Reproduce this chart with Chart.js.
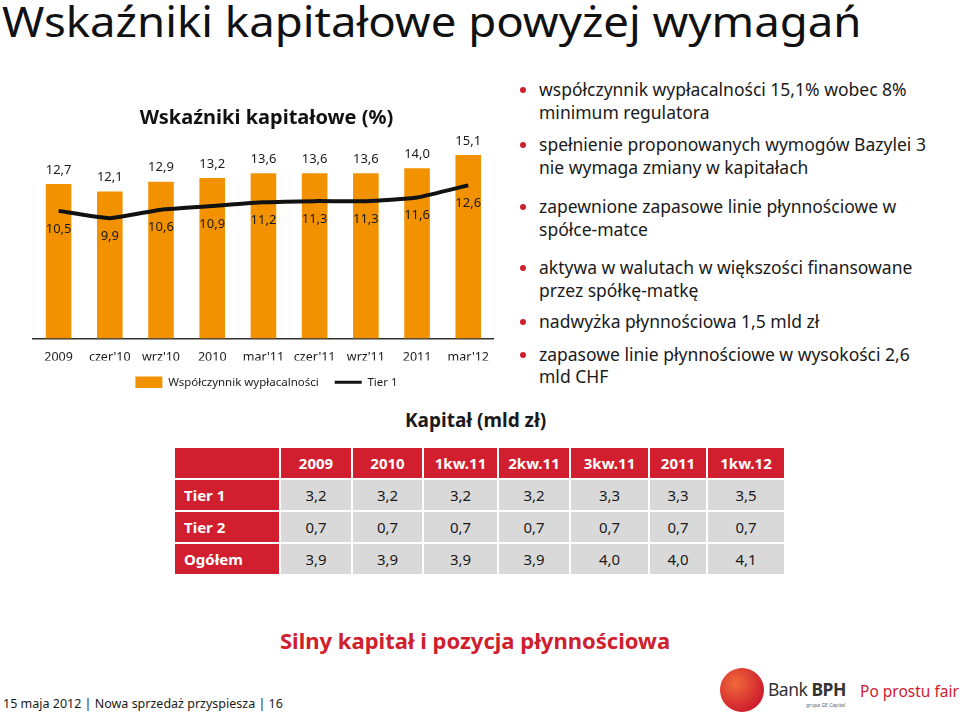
<!DOCTYPE html>
<html lang="pl">
<head>
<meta charset="utf-8">
<script src="https://cdn.jsdelivr.net/npm/chart.js@4.4.1/dist/chart.umd.min.js"></script>
<style>
  body { margin: 0; width: 960px; height: 718px; background: #fff; position: relative; overflow: hidden; font-family: "Noto Sans", Lato, sans-serif; color: #1a1a1a; }
  .abs { position: absolute; white-space: nowrap; }
  #title { left: 2px; top: -8px; font-size: 42px; color: #111; transform-origin: 0 0; }
  #chartBox { left: 20px; top: 95px; width: 480px; height: 305px; }
  ul.bul { left: 520px; top: 78px; margin: 0; padding: 0; list-style: none; font-size: 17.5px; line-height: 22.5px; }
  ul.bul li { position: relative; padding-left: 19px; }
  ul.bul li:before { content: ""; position: absolute; left: 0; top: 9px; width: 6px; height: 6px; border-radius: 50%; background: #d0202e; }
  #kap { left: 405px; top: 407px; font-size: 19px; font-weight: bold; }
  table.kt { left: 173px; top: 446px; border-collapse: separate; border-spacing: 2px; font-size: 15px; }
  table.kt td { height: 30px; text-align: center; padding: 0; }
  table.kt td.h { background: #d21f2f; color: #fff; font-weight: bold; }
  table.kt td.r { background: #d21f2f; color: #fff; font-weight: bold; text-align: left; padding-left: 9px; }
  table.kt td.v { background: #d9d9d9; }
  #silny { left: 280px; top: 625px; font-size: 22px; font-weight: bold; color: #d0202e; }
  #foot { left: 3px; top: 695px; font-size: 12.5px; }
  #logo { left: 720px; top: 668px; width: 44px; height: 44px; border-radius: 50%; background: radial-gradient(circle at 35% 35%, #f06a3a, #d0202e 70%); }
  #bank { left: 768px; top: 677px; font-size: 17.5px; color: #333; letter-spacing: -0.5px; }
  #grupa { left: 806px; top: 702px; font-size: 5px; color: #666; }
  #fair { left: 860px; top: 680px; font-size: 15.5px; color: #d0202e; }
</style>
</head>
<body>
<div id="title" class="abs">Wskaźniki kapitałowe powyżej wymagań</div>

<div id="chartBox" class="abs"><canvas id="mycanvas"></canvas></div>

<ul class="bul abs">
  <li>współczynnik wypłacalności 15,1% wobec 8%<br>minimum regulatora</li>
  <li style="margin-top:10px">spełnienie proponowanych wymogów Bazylei 3<br>nie wymaga zmiany w kapitałach</li>
  <li style="margin-top:17px">zapewnione zapasowe linie płynnościowe w<br>spółce-matce</li>
  <li style="margin-top:16px">aktywa w walutach w większości finansowane<br>przez spółkę-matkę</li>
  <li style="margin-top:9px">nadwyżka płynnościowa 1,5 mld zł</li>
  <li style="margin-top:10px">zapasowe linie płynnościowe w wysokości 2,6<br>mld CHF</li>
</ul>

<div id="kap" class="abs">Kapitał (mld zł)</div>
<table class="kt abs" id="ktab"></table>

<div id="silny" class="abs">Silny kapitał i pozycja płynnościowa</div>
<div id="foot" class="abs">15 maja 2012 | Nowa sprzedaż przyspiesza | 16</div>
<div id="logo" class="abs"></div>
<div id="bank" class="abs">Bank <b>BPH</b></div>
<div id="grupa" class="abs">grupa GE Capital</div>
<div id="fair" class="abs">Po prostu fair</div>

<script>
// chart data
var labels = ["2009", "czer'10", "wrz'10", "2010", "mar'11", "czer'11", "wrz'11", "2011", "mar'12"];
var solvency = [12.7, 12.1, 12.9, 13.2, 13.6, 13.6, 13.6, 14.0, 15.1]; // Współczynnik wypłacalności
var tier1 = [10.5, 9.9, 10.6, 10.9, 11.2, 11.3, 11.3, 11.6, 12.6];

// table data
var tableCols = ["2009", "2010", "1kw.11", "2kw.11", "3kw.11", "2011", "1kw.12"];
var tableRows = ["Tier 1", "Tier 2", "Ogółem"];
var capTier1 = [3.2, 3.2, 3.2, 3.2, 3.3, 3.3, 3.5];
var capTier2 = [0.7, 0.7, 0.7, 0.7, 0.7, 0.7, 0.7];
var capTotal = [3.9, 3.9, 3.9, 3.9, 4.0, 4.0, 4.1];

var colWidths = [104, 70, 69, 73, 70, 77, 56, 76];
var FONT = "'Noto Sans', Lato, sans-serif";

function fmt(v) { return v.toFixed(1).replace(".", ","); }

// stretch the slide title to the width it has on the slide
var t = document.getElementById("title");
t.style.transform = "scaleX(" + (860 / t.offsetWidth) + ")";

// build table
var tab = document.getElementById("ktab");
var html = "<tr><td class='h' style='width:" + colWidths[0] + "px'></td>";
for (var i = 0; i < tableCols.length; i++) {
    html += "<td class='h' style='width:" + colWidths[i + 1] + "px'>" + tableCols[i] + "</td>";
}
html += "</tr>";
var rowsData = [capTier1, capTier2, capTotal];
for (var r = 0; r < tableRows.length; r++) {
    html += "<tr><td class='r'>" + tableRows[r] + "</td>";
    for (var c = 0; c < rowsData[r].length; c++) {
        html += "<td class='v'>" + fmt(rowsData[r][c]) + "</td>";
    }
    html += "</tr>";
}
tab.innerHTML = html;

// value labels on bars and line
var valueLabels = {
    id: 'valueLabels',
    afterDatasetsDraw: function(chart) {
        var ctx = chart.ctx;
        ctx.save();
        ctx.font = "13px " + FONT;
        ctx.fillStyle = "#1a1a1a";
        ctx.textAlign = "center";
        ctx.textBaseline = "middle";
        chart.getDatasetMeta(0).data.forEach(function(el, i) {
            ctx.fillText(fmt(solvency[i]), el.x, el.y - 14);
        });
        chart.getDatasetMeta(1).data.forEach(function(el, i) {
            ctx.fillText(fmt(tier1[i]), el.x, el.y + 18);
        });
        ctx.restore();
    }
};

var ctx = document.getElementById("mycanvas");
var chart = new Chart(ctx, {
    type: 'bar',
    data: {
        labels: labels,
        datasets: [
            {
                label: 'Współczynnik wypłacalności',
                data: solvency,
                backgroundColor: '#f39200',
                barPercentage: 0.5,
                categoryPercentage: 1.0,
                order: 2
            },
            {
                type: 'line',
                label: 'Tier 1',
                data: tier1,
                borderColor: '#111',
                backgroundColor: '#111',
                borderWidth: 4,
                pointRadius: 0,
                tension: 0.15,
                order: 1
            }
        ]
    },
    options: {
        responsive: true,
        maintainAspectRatio: false,
        animation: false,
        layout: { padding: { left: 13, right: 0, top: 0, bottom: 2 } },
        scales: {
            x: {
                grid: { display: false, drawTicks: false },
                border: { display: true, color: '#333', width: 1.5 },
                ticks: { color: '#1a1a1a', padding: 11, font: { size: 12.5, family: FONT } },
                afterFit: function(scale) { scale.height -= 15; }
            },
            y: {
                display: false,
                min: 0,
                max: 16
            }
        },
        plugins: {
            title: {
                display: true,
                text: 'Wskaźniki kapitałowe (%)',
                color: '#111',
                font: { size: 20, weight: 'bold', family: FONT },
                padding: { top: 11, bottom: 14 }
            },
            legend: {
                display: true,
                position: 'bottom',
                labels: {
                    usePointStyle: true,
                    pointStyleWidth: 27,
                    color: '#1a1a1a',
                    padding: 16,
                    font: { size: 11.5, family: FONT },
                    generateLabels: function(chart) {
                        return chart.data.datasets.map(function(ds, i) {
                            var isLine = ds.type === 'line';
                            return {
                                text: ds.label,
                                datasetIndex: i,
                                fillStyle: isLine ? '#111' : '#f39200',
                                strokeStyle: isLine ? '#111' : '#f39200',
                                lineWidth: isLine ? 3 : 0,
                                pointStyle: isLine ? 'line' : 'rect',
                                fontColor: '#1a1a1a'
                            };
                        });
                    }
                }
            },
            tooltip: { enabled: false }
        }
    },
    plugins: [valueLabels]
});
</script>
</body>
</html>
